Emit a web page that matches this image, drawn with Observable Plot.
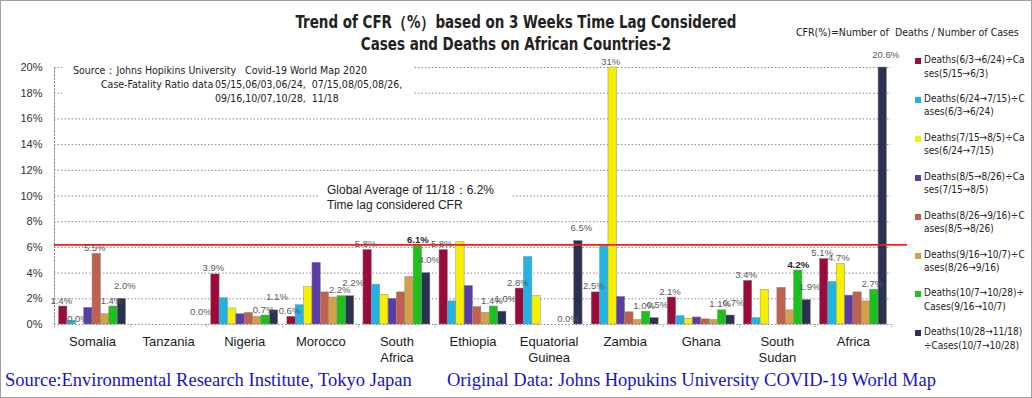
<!DOCTYPE html>
<html><head><meta charset="utf-8">
<script src="https://cdn.jsdelivr.net/npm/d3@7"></script>
<script src="https://cdn.jsdelivr.net/npm/@observablehq/plot@0.6"></script>
<style>
html,body{margin:0;padding:0;background:#fff;}
#wrap{position:relative;width:1032px;height:398px;overflow:hidden;background:#fff;}
#wrap svg{position:absolute;left:0;top:0;}
.abs{position:absolute;white-space:nowrap;line-height:1;}
.narrow{font-family:"Liberation Sans Narrow","DejaVu Sans Condensed","Open Sans",sans-serif;}
.arial{font-family:"Liberation Sans",Arial,sans-serif;}
.serif{font-family:"Liberation Serif","Times New Roman",serif;}
#border{position:absolute;left:0;top:0;width:1032px;height:398px;box-sizing:border-box;border:1px solid #a0a0a0;pointer-events:none;}
.box{position:absolute;background:#fff;}
.sw{position:absolute;width:6px;height:6px;}
.title{transform:scaleX(0.88);transform-origin:516px 50%;}
</style></head><body><div id="wrap"></div>
<script>
// ---- data ----
const countries = ["Somalia","Tanzania","Nigeria","Morocco","South Africa","Ethiopia","Equatorial Guinea","Zambia","Ghana","South Sudan","Africa"];
const tickLabels = ["Somalia","Tanzania","Nigeria","Morocco","South\nAfrica","Ethiopia","Equatorial\nGuinea","Zambia","Ghana","South\nSudan","Africa"];
const s0 = [1.4, 0, 3.9, 0.6, 5.8, 5.8, 2.8, 2.5, 2.1, 3.4, 5.1];
const s1 = [0.3, 0, 2.05, 1.5, 3.1, 1.8, 5.25, 6.1, 0.65, 0.5, 3.3];
const s2 = [0, 0, 1.25, 2.9, 2.3, 6.4, 2.2, 31, 0.45, 2.7, 4.7];
const s3 = [1.3, 0, 0.8, 4.8, 2.0, 3.0, 0, 2.15, 0.55, 0, 2.25];
const s4 = [5.5, 0, 0.9, 2.5, 2.5, 1.35, 0, 0.95, 0.4, 2.85, 2.5];
const s5 = [0.8, 0, 0.6, 2.1, 3.7, 0.9, 0, 0.35, 0.35, 1.1, 1.8];
const s6 = [1.4, 0, 0.7, 2.2, 6.1, 1.4, 0, 1.0, 1.1, 4.2, 2.7];
const s7 = [2.0, 0, 1.1, 2.2, 4.0, 1.0, 6.5, 0.5, 0.7, 1.9, 20.6];
const series = [s0, s1, s2, s3, s4, s5, s6, s7];
const legendLine1 = ["Deaths(6/3→6/24)÷Ca","Deaths(6/24→7/15)÷C","Deaths(7/15→8/5)÷Ca","Deaths(8/5→8/26)÷Ca","Deaths(8/26→9/16)÷C","Deaths(9/16→10/7)÷C","Deaths(10/7→10/28)÷","Deaths(10/28→11/18)"];
const legendLine2 = ["ses(5/15→6/3)","ases(6/3→6/24)","ses(6/24→7/15)","ses(7/15→8/5)","ases(8/5→8/26)","ases(8/26→9/16)","Cases(9/16→10/7)","÷Cases(10/7→10/28)"];
const colors = ["#9A0A3A","#1FB4E6","#F4F000","#5A3CA4","#C0604F","#D4A04A","#1BC21B","#2A3152"];
const yTicks = [0,2,4,6,8,10,12,14,16,18,20];
const globalAvg = 6.2;
const dataLabels = [
  ["Somalia",0,"1.4%"],["Somalia",2,"0.0%"],["Somalia",4,"5.5%"],["Somalia",6,"1.4%"],["Somalia",7,"2.0%"],
  ["Tanzania",7,"0.0%"],
  ["Nigeria",0,"3.9%"],["Nigeria",6,"0.7%"],["Nigeria",7,"1.1%"],
  ["Morocco",0,"0.6%"],["Morocco",6,"2.2%"],["Morocco",7,"2.2%"],
  ["South Africa",0,"5.8%"],["South Africa",6,"6.1%"],["South Africa",7,"4.0%"],
  ["Ethiopia",0,"5.8%"],["Ethiopia",6,"1.4%"],["Ethiopia",7,"1.0%"],
  ["Equatorial Guinea",0,"2.8%"],["Equatorial Guinea",6,"0.0%"],["Equatorial Guinea",7,"6.5%"],
  ["Zambia",0,"2.5%"],["Zambia",2,"31%"],["Zambia",6,"1.0%"],["Zambia",7,"0.5%"],
  ["Ghana",0,"2.1%"],["Ghana",6,"1.1%"],["Ghana",7,"0.7%"],
  ["South Sudan",0,"3.4%"],["South Sudan",6,"4.2%"],["South Sudan",7,"1.9%"],
  ["Africa",0,"5.1%"],["Africa",2,"4.7%"],["Africa",6,"2.7%"],["Africa",7,"20.6%"]
];
const boldLabels = [["South Africa",6],["South Sudan",6]];

// ---- layout within each category slot (fractions of one category) ----
const groupPad = 0.06, barW = (1 - 2 * groupPad) / series.length;
const slot = (ci, j) => ci + groupPad + j * barW;

const rows = countries.flatMap((c, i) => series.map((s, j) => ({country: c, series: j, value: s[i], x1: slot(i, j), x2: slot(i, j) + barW})));
const labelRows = dataLabels.map(([c, j, t]) => {
  const ci = countries.indexOf(c);
  return {country: c, series: j, value: series[j][ci], xm: slot(ci, j) + barW / 2, text: t,
    bold: boldLabels.some(([bc, bj]) => bc === c && bj === j)};
});
const lastSeries = series.length - 1;
const labelStyle = {x: "xm", y: "value", text: "text", lineAnchor: "bottom", fontSize: 9.5};

const chart = Plot.plot({
  width: 1032, height: 398,
  marginLeft: 54, marginRight: 141, marginTop: 67, marginBottom: 74,
  style: {background: "transparent", fontFamily: "'Liberation Sans', Arial, sans-serif", overflow: "visible"},
  x: {domain: [0, countries.length], axis: null},
  y: {domain: [0, 20], clamp: true, axis: null},
  color: {type: "ordinal", domain: d3.range(8), range: colors},
  marks: [
    Plot.ruleY(yTicks, {stroke: "#8a8a8a", strokeDasharray: "1.5,2", strokeWidth: 1}),
    Plot.frame({anchor: "left", stroke: "#8a8a8a", strokeDasharray: "1.5,2"}),
    Plot.rectY(rows, {x1: "x1", x2: "x2", y: "value", fill: "series", stroke: "#8a8a8a", strokeWidth: 0.5}),
    Plot.ruleY([globalAvg], {stroke: "#FF1A1A", strokeWidth: 1.6, insetRight: -16}),
    Plot.text(labelRows.filter(d => !d.bold && d.series !== lastSeries), {...labelStyle, dy: -3, dx: -2, fill: "#595959"}),
    Plot.text(labelRows.filter(d => !d.bold && d.series === lastSeries), {...labelStyle, dy: -10, dx: 3, fill: "#595959"}),
    Plot.text(labelRows.filter(d => d.bold), {...labelStyle, dy: -3, fontWeight: "bold", fill: "#262626"}),
    Plot.axisX({ticks: d3.range(countries.length + 1), tickSize: 4, tickFormat: () => "", stroke: "#8a8a8a", strokeDasharray: "1,1", label: null}),
    Plot.axisX({ticks: d3.range(countries.length).map(i => i + 0.5), tickSize: 0, tickPadding: 10, fontSize: 13, fill: "#1a1a1a", label: null, lineHeight: 1.22,
      tickFormat: d => tickLabels[Math.floor(d)]}),
    Plot.axisY({ticks: yTicks, tickFormat: d => `${d}%`, tickSize: 0, tickPadding: 12, fontSize: 11, fill: "#333", label: null})
  ]
});

const wrap = document.getElementById("wrap");
wrap.appendChild(chart);

function add(html, cls, style) {
  const el = document.createElement("div");
  el.className = cls;
  el.style.cssText = style;
  el.innerHTML = html;
  wrap.appendChild(el);
  return el;
}
// white boxes behind annotations
add("", "box", "left:62px;top:58px;width:352px;height:47px;");
add("", "box", "left:318px;top:180px;width:194px;height:33px;");
// title
add("Trend of CFR（%）based on 3 Weeks Time Lag Considered", "abs narrow title", "left:0;width:1032px;text-align:center;top:14px;font-size:17px;font-weight:bold;color:#222;");
add("Cases and Deaths on African Countries-2", "abs narrow title", "left:0;width:1032px;text-align:center;top:36px;font-size:17px;font-weight:bold;color:#222;");
add("CFR(%)=Number of&nbsp; Deaths / Number of Cases", "abs narrow", "left:796px;top:27px;font-size:10.5px;color:#222;");
// source annotation
add("Source：Johns Hopikins University&nbsp;&nbsp; Covid-19 World Map 2020", "abs narrow", "left:73px;top:65px;font-size:10.5px;color:#222;");
add("Case-Fatality Ratio data", "abs narrow", "left:101px;top:79px;font-size:10.5px;color:#222;");
add("05/15,06/03,06/24,&nbsp; 07/15,08/05,08/26,", "abs narrow", "left:215px;top:79px;font-size:10.5px;color:#222;");
add("09/16,10/07,10/28,&nbsp; 11/18", "abs narrow", "left:215px;top:93px;font-size:10.5px;color:#222;");
// global average annotation
add("Global Average of 11/18：6.2%", "abs arial", "left:327px;top:184px;font-size:12px;color:#222;");
add("Time lag considered CFR", "abs arial", "left:327px;top:199px;font-size:12px;color:#222;");
// legend
legendLine1.forEach((t, i) => {
  const top = 55 + i * 38.9;
  add("", "sw", `left:915px;top:${top + 3}px;background:${colors[i]};`);
  add(t, "abs narrow", `left:924px;top:${top}px;font-size:10px;color:#222;`);
  add(legendLine2[i], "abs narrow", `left:924px;top:${top + 13.5}px;font-size:10px;color:#222;`);
});
// bottom caption
add("Source:Environmental Research Institute, Tokyo Japan", "abs serif", "left:5px;top:371px;font-size:18.5px;color:#1515C8;");
add("Original Data: Johns Hopukins University COVID-19 World Map", "abs serif", "left:447px;top:371px;font-size:18.5px;color:#1515C8;");
add("", "", "").id = "border";
</script>
</body></html>
